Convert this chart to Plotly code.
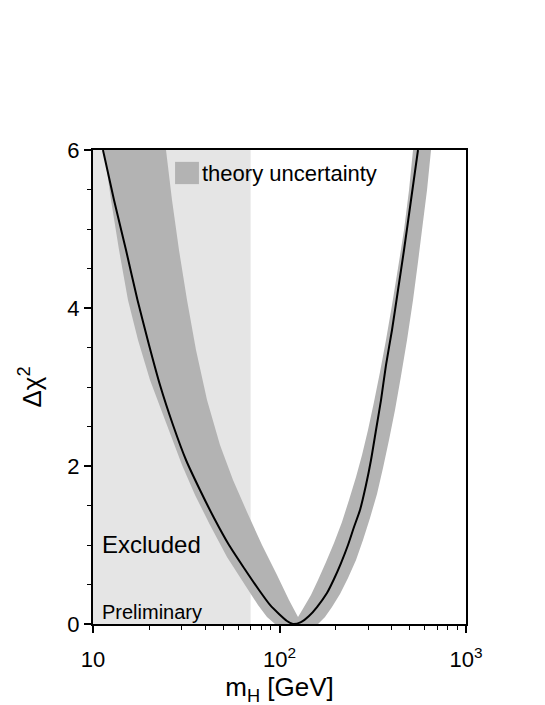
import plotly.graph_objects as go

# ---- data ----
# central Delta chi^2 curve
curve_mh = [11.31, 12.96, 15.03, 17.32, 19.97, 22.87, 26.85, 31.53, 37.47, 44.56, 53.60, 64.52,
            77.64, 88.93, 99.38, 109.7, 118.1, 130.4, 143.9, 158.9, 179.7, 196.0, 213.7, 233.0,
            250.9, 270.2, 290.9, 309.5, 329.2, 350.2, 372.4, 401.1, 432.0, 465.2, 507.2, 552.9]
curve_chi2 = [6.0, 5.367, 4.734, 4.101, 3.532, 3.025, 2.519, 2.076, 1.696, 1.342, 1.0, 0.709,
              0.430, 0.241, 0.127, 0.038, 0.0, 0.025, 0.101, 0.215, 0.392, 0.570, 0.772, 1.0,
              1.228, 1.443, 1.759, 2.076, 2.456, 2.835, 3.278, 3.722, 4.228, 4.734, 5.367, 6.0]

# theory uncertainty band edges
band_outer_left_mh = [11.46, 12.49, 13.79, 15.40, 17.43, 20.21, 24.33, 30.01, 35.24, 42.40,
                      52.29, 65.31, 76.68, 85.70, 94.6]
band_outer_left_chi2 = [6.0, 5.367, 4.734, 4.101, 3.595, 3.089, 2.582, 2.013, 1.633, 1.253,
                        0.848, 0.494, 0.241, 0.089, 0.0]
band_outer_right_mh = [160.9, 175.4, 191.2, 211.1, 233.0, 257.2, 280.4, 305.7, 333.3, 358.9,
                       386.5, 416.2, 448.2, 482.8, 519.9, 552.9, 580.8, 618.0, 649.3]
band_outer_right_chi2 = [0.0, 0.089, 0.215, 0.380, 0.582, 0.810, 1.063, 1.342, 1.646, 1.975,
                         2.329, 2.709, 3.139, 3.595, 4.101, 4.582, 4.987, 5.494, 6.0]
band_inner_right_mh = [519.9, 494.9, 465.2, 432.0, 401.1, 372.4, 345.9, 321.1, 298.2, 277.0,
                       257.2, 235.9, 216.3, 196.0, 177.6, 160.9, 147.5, 135.3, 125.7]
band_inner_right_chi2 = [6.0, 5.494, 4.987, 4.506, 4.038, 3.595, 3.190, 2.810, 2.456, 2.139,
                         1.861, 1.570, 1.291, 1.025, 0.785, 0.557, 0.367, 0.215, 0.089]
band_inner_left_mh = [112.4, 96.96, 80.57, 66.95, 56.33, 47.97, 40.87, 35.67, 31.92, 28.91,
                      26.52, 24.63]
band_inner_left_chi2 = [0.304, 0.620, 1.0, 1.418, 1.823, 2.266, 2.835, 3.468, 4.101, 4.734,
                        5.367, 6.0]

excluded_min = 10
excluded_max = 70
chi2_max = 6

x_tickvals = [10, 100, 1000]
x_ticktext = ["10", "10<sup>2</sup>", "10<sup>3</sup>"]
x_minor = [20, 30, 40, 50, 60, 70, 80, 90, 200, 300, 400, 500, 600, 700, 800, 900]
y_tickvals = [0, 2, 4, 6]

FONT = "Liberation Sans, Arial, Helvetica, sans-serif"

fig = go.Figure()

# excluded region
fig.add_trace(go.Scatter(
    x=[excluded_min, excluded_max, excluded_max, excluded_min, excluded_min],
    y=[0, 0, chi2_max, chi2_max, 0],
    mode="none", fill="toself", fillcolor="#e5e5e5",
    hoverinfo="skip", showlegend=False))

# band polygon
band_x = (band_outer_left_mh + band_outer_right_mh + band_inner_right_mh
          + band_inner_left_mh + [band_outer_left_mh[0]])
band_y = (band_outer_left_chi2 + band_outer_right_chi2 + band_inner_right_chi2
          + band_inner_left_chi2 + [band_outer_left_chi2[0]])
fig.add_trace(go.Scatter(
    x=band_x, y=band_y, mode="none", fill="toself", fillcolor="#b3b3b3",
    hoverinfo="skip", showlegend=False))

# central curve
fig.add_trace(go.Scatter(
    x=curve_mh, y=curve_chi2, mode="lines",
    line=dict(color="black", width=2, shape="spline", smoothing=0.6),
    showlegend=False))

fig.update_layout(
    width=545, height=705,
    margin=dict(l=85, r=87, t=142, b=89),
    paper_bgcolor="white", plot_bgcolor="white",
    font=dict(family=FONT, size=22, color="black"),
    showlegend=False,
)

fig.update_xaxes(
    type="log", range=[1, 3],
    tickmode="array", tickvals=x_tickvals, ticktext=x_ticktext,
    ticks="outside", ticklen=7, tickwidth=1.5, tickcolor="black",
    ticklabelstandoff=8,
    minor=dict(tickmode="array", tickvals=x_minor, ticks="outside",
               ticklen=4, tickwidth=1.2, tickcolor="black", showgrid=False),
    showline=True, linecolor="black", linewidth=2, mirror=True,
    showgrid=False, zeroline=False,
    tickfont=dict(size=22),
    title=dict(text="m<sub>H</sub> [GeV]", font=dict(size=26), standoff=0),
)
fig.update_yaxes(
    range=[0, chi2_max],
    tickmode="array", tickvals=y_tickvals,
    ticks="outside", ticklen=7, tickwidth=1.5, tickcolor="black",
    minor=dict(dtick=0.5, ticks="outside", ticklen=4, tickwidth=1.2,
               tickcolor="black", showgrid=False),
    showline=True, linecolor="black", linewidth=2, mirror=True,
    showgrid=False, zeroline=False,
    tickfont=dict(size=22),
    title=dict(text="Δχ<sup>2</sup>", font=dict(size=26), standoff=18),
)

# legend box and label
fig.add_shape(type="rect", xref="paper", yref="paper",
              x0=0.220, x1=0.284, y0=0.928, y1=0.975,
              fillcolor="#b3b3b3", line=dict(width=0))
fig.add_annotation(xref="paper", yref="paper", x=0.288, y=0.951,
                   text="theory uncertainty", showarrow=False,
                   xanchor="left", yanchor="middle", font=dict(size=22))

fig.add_annotation(xref="paper", yref="paper", x=0.020, y=0.167,
                   text="Excluded", showarrow=False,
                   xanchor="left", yanchor="middle", font=dict(size=24))
fig.add_annotation(xref="paper", yref="paper", x=0.020, y=0.025,
                   text="Preliminary", showarrow=False,
                   xanchor="left", yanchor="middle", font=dict(size=20))

fig.write_html("out.html")
